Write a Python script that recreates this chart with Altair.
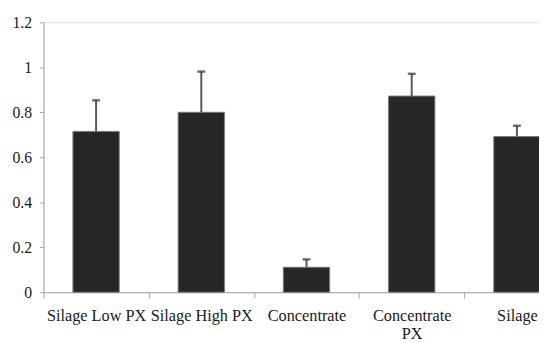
import altair as alt
import pandas as pd

categories = ["Silage Low PX", "Silage High PX", "Concentrate", "Concentrate PX", "Silage"]
means = [0.715, 0.80, 0.111, 0.872, 0.692]
errors = [0.138, 0.181, 0.035, 0.099, 0.048]

df = pd.DataFrame({
    "cat": categories,
    "mean": means,
    "top": [m + e for m, e in zip(means, errors)],
})

FONT = "'Liberation Serif', 'Times New Roman', serif"
AXIS_GRAY = "#a6a6a6"

xscale = alt.Scale(range=[0, 534], paddingInner=0, paddingOuter=0)
yscale = alt.Scale(domain=[0, 1.2], nice=False)

x_enc = alt.X(
    "cat:N", sort=categories, scale=xscale, title=None,
    axis=alt.Axis(
        labelAngle=0, labelFont=FONT, labelFontSize=16.5, labelColor="#1a1a1a",
        labelPadding=10, labelLineHeight=18, labelOverlap=False,
        labelExpr="datum.value == 'Concentrate PX' ? ['Concentrate', 'PX'] : datum.label",
        tickBand="extent", tickSize=6, tickColor=AXIS_GRAY, domainColor=AXIS_GRAY,
        domainWidth=1, tickWidth=1, grid=False,
    ),
)

bars = alt.Chart(df).mark_bar(
    color="#262626", stroke="#7a7a7a", strokeWidth=1, width=alt.RelativeBandSize(0.44)
).encode(
    x=x_enc,
    y=alt.Y(
        "mean:Q", scale=yscale, title=None,
        axis=alt.Axis(
            values=[0, 0.2, 0.4, 0.6, 0.8, 1, 1.2], format="~g",
            labelFont=FONT, labelFontSize=16, labelColor="#1a1a1a", labelPadding=8,
            tickSize=4, tickColor=AXIS_GRAY, domainColor=AXIS_GRAY, grid=False,
        ),
    ),
)

stems = alt.Chart(df).mark_rule(color="#5a5a5a", strokeWidth=2).encode(
    x=alt.X("cat:N", sort=categories, scale=xscale),
    y=alt.Y("mean:Q", scale=yscale),
    y2="top:Q",
)

caps = alt.Chart(df).mark_tick(color="#333333", size=8, thickness=2.5).encode(
    x=alt.X("cat:N", sort=categories, scale=xscale),
    y=alt.Y("top:Q", scale=yscale),
)

chart = (bars + stems + caps).properties(
    width=503, height=274,
    autosize=alt.AutoSizeParams(type="none"),
    padding={"left": 36, "top": 12, "right": 0, "bottom": 48},
).configure_view(stroke=None).configure(background="white")

chart.save("out.html", embed_options={"renderer": "svg", "actions": False})
